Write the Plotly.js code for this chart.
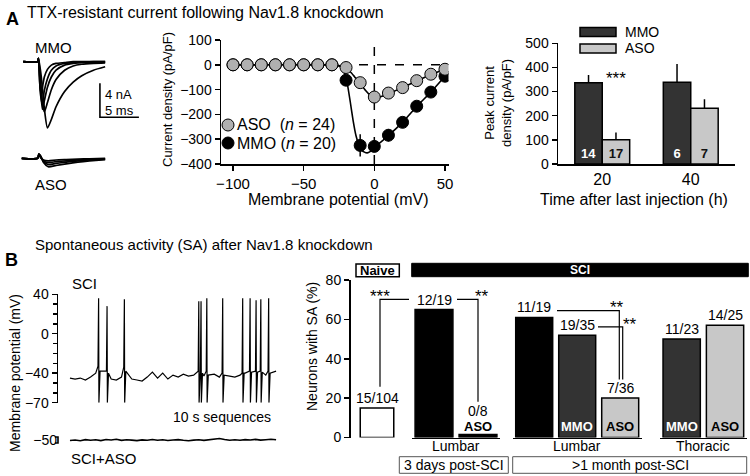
<!DOCTYPE html>
<html><head><meta charset="utf-8">
<script src="https://cdn.plot.ly/plotly-3.0.1.min.js"></script>
<style>html,body{margin:0;padding:0;background:#fff}#chart{width:750px;height:476px}</style>
</head><body><div id="chart"></div>
<script>
// ================= DATA =================
// Panel A left: example TTX-R current traces (time in ms, current in nA)
const mmoTime   = [0, 1.85, 1.95, 2.2, 2.45, 2.7, 3.1, 3.6, 4.2, 5.3, 6.4, 7.5, 9, 10.5];
const mmoTrace1 = [0, 0, 0.4, -1.0, -3.0, -5.5, -7.8, -6.8, -5.3, -3.5, -2.4, -1.65, -1.0, -0.6];
const mmoTrace2 = [0, 0, 0.4, -2.0, -4.8, -5.9, -4.8, -3.3, -2.1, -1.0, -0.5, -0.3, -0.2, -0.15];
const mmoTrace3 = [0, 0, 0.4, -3.0, -5.6, -4.6, -3.0, -1.8, -1.0, -0.4, -0.2, -0.1, -0.1, -0.05];
const mmoTrace4 = [0, 0, 0.4, -3.8, -5.0, -3.4, -2.0, -1.0, -0.5, -0.2, -0.1, -0.05, 0, 0];
const mmoTrace5 = [0, 0, 0.4, -3.5, -3.0, -1.8, -0.9, -0.4, -0.2, -0.1, 0, 0, 0, 0];
const asoTime   = [-0.2, 1.85, 2.0, 2.2, 2.6, 3.2, 4.2, 5.5, 7, 8.5, 10.5];
const asoTrace1 = [0, 0, 0.5, 0.3, -0.5, -1.0, -0.85, -0.65, -0.45, -0.3, -0.15];
const asoTrace2 = [0, 0, 0.5, 0.3, -0.4, -0.75, -0.6, -0.45, -0.3, -0.2, -0.1];
const asoTrace3 = [0, 0, 0.5, 0.2, -0.3, -0.5, -0.4, -0.3, -0.2, -0.1, -0.05];
const asoTrace4 = [0, 0, 0.5, 0.1, -0.2, -0.3, -0.2, -0.15, -0.1, -0.05, 0];
const scaleBarCurrent = 4;   // nA
const scaleBarTime = 5;      // ms

// Panel A middle: current-voltage relation
const voltage  = [-100, -90, -80, -70, -60, -50, -40, -30, -20, -10, 0, 10, 20, 30, 40, 50];
const ivASO    = [0, 0, 0, 0, 0, 0, 0, 0, -11, -72, -130, -114, -92, -64, -38, -18];
const ivASOerr = [0, 0, 0, 0, 0, 0, 0, 0, 5, 12, 12, 15, 14, 12, 10, 8];
const ivMMO    = [0, 0, 0, 0, 0, 0, 0, 0, -62, -325, -329, -284, -232, -167, -110, -46];
const ivMMOerr = [0, 0, 0, 0, 0, 0, 0, 0, 12, 45, 18, 25, 20, 15, 15, 10];
const fitVoltageASO = [-100, -30, -26, -23, -20, -17, -14, -10, -6, -3, 0, 3, 6, 10, 20, 30, 40, 50];
const fitASO        = [0, 0, -2, -6, -13, -28, -48, -75, -105, -123, -132, -131, -126, -116, -92, -65, -40, -17];
const fitVoltageMMO = [-100, -30, -26, -23, -21, -19, -17, -15, -13, -11, -9, -7, -5, -3, -1, 0, 5, 10, 20, 30, 40, 50];
const fitMMO        = [0, 0, -3, -12, -35, -80, -150, -225, -285, -322, -343, -352, -355, -350, -340, -333, -310, -285, -232, -168, -110, -46];
const ivLegend = ['ASO&nbsp;&nbsp;(<i>n</i> = 24)', 'MMO (<i>n</i> = 20)'];

// Panel A right: peak current density
const injTime    = ['20', '40'];
const peakMMO    = [337, 339];
const peakMMOerr = [32, 75];
const peakASO    = [100, 231];
const peakASOerr = [30, 37];
const nMMO = ['14', '6'];
const nASO = ['17', '7'];

// Panel B left: membrane potential recording (s, mV)
const sciBaseTime = [0, 0.25, 0.5, 0.75, 1, 1.25, 1.5, 1.75, 2, 2.25, 2.5, 2.75, 3, 3.25, 3.5, 3.75, 4, 4.25, 4.5, 4.75, 5,
                     5.25, 5.5, 5.75, 6, 6.25, 6.5, 6.75, 7, 7.25, 7.5, 7.75, 8, 8.25, 8.5, 8.75, 9, 9.25, 9.5, 9.75, 10];
const sciBaseV = [-45, -46, -45, -47, -44, -40, -44, -42, -46, -47, -44, -47, -46, -47, -48, -44, -39, -45, -40, -46, -42,
                  -44, -41, -43, -42, -41, -43, -44, -41, -44, -42, -43, -44, -42, -40, -42, -41, -40, -42, -39, -38];
const spikeTimes   = [1.39, 1.80, 2.64, 6.25, 6.36, 6.64, 7.41, 8.38, 8.74, 9.03, 9.26, 9.64];
const spikePeaks   = [36, 28, 35, 33, 33, 36, 36, 36, 36, 34, 35, 36];
const spikeOnsetV  = [-33, -38, -34, -38, -36, -38, -40, -40, -38, -38, -38, -38];
const spikeTroughV = [-70, -70, -70, -70, -70, -70, -70, -70, -70, -70, -70, -70];
const spikeReboundV= [-38, -40, -38, -40, -40, -42, -42, -40, -39, -39, -39, -40];
const asoRecV = [-50.5, -50, -50.8, -49.6, -50.2, -49.8, -50.6, -49.5, -50, -49.2, -50.4, -49.7, -50.1, -50.6, -49.9, -50.3,
                 -49.5, -50.2, -49.8, -50.5, -50, -49.6, -50.3, -50.7, -50.1, -49.8, -50.4, -49.9, -49.2, -48.5, -49.5, -50.2,
                 -49.8, -50.3, -49.6, -50, -49.4, -50.1, -49.7, -49.3, -49.8];

// Panel B right: % neurons with SA
const naiveCat = ['Naive'];          const naiveVal = [15];          const naiveFrac = ['15/104'];
const lum3Cat = ['SCI', 'ASO'];      const lum3Val = [65, 1.5];      const lum3Frac = ['12/19', '0/8'];
const lum1Cat = ['SCI', 'MMO', 'ASO']; const lum1Val = [61, 52, 20]; const lum1Frac = ['11/19', '19/35', '7/36'];
const thoCat = ['MMO', 'ASO'];       const thoVal = [50, 57];        const thoFrac = ['11/23', '14/25'];

// ================= HELPERS =================
const W = 750, H = 476;
const px = v => v / W;
const py = v => 1 - v / H;
const FONT = 'Liberation Sans, Arial, sans-serif';
const BLACK = '#000', DARK = '#333333', LIGHT = '#c8c8c8', GREY = '#b0b0b0';
const catColor = c => c === 'SCI' ? BLACK : c === 'MMO' ? DARK : c === 'ASO' ? LIGHT : '#fff';

// ================= TRACES =================
const traces = [];
[mmoTrace1, mmoTrace2, mmoTrace3, mmoTrace4, mmoTrace5].forEach(tr => traces.push({
  x: mmoTime, y: tr, xaxis: 'x3', yaxis: 'y3', mode: 'lines', line: {color: BLACK, width: 1.7, shape: 'spline', smoothing: 0.6}, showlegend: false, hoverinfo: 'skip'}));
[asoTrace1, asoTrace2, asoTrace3, asoTrace4].forEach(tr => traces.push({
  x: asoTime, y: tr, xaxis: 'x4', yaxis: 'y4', mode: 'lines', line: {color: BLACK, width: 1.7, shape: 'spline', smoothing: 0.6}, showlegend: false, hoverinfo: 'skip'}));
const sbT = 9.83, sbI = -2.54;
traces.push({x: [sbT, sbT, sbT + scaleBarTime], y: [sbI, sbI - scaleBarCurrent, sbI - scaleBarCurrent], xaxis: 'x3', yaxis: 'y3',
  mode: 'lines', line: {color: BLACK, width: 1.6}, showlegend: false, hoverinfo: 'skip'});

// IV
traces.push({x: fitVoltageMMO, y: fitMMO, mode: 'lines', line: {color: BLACK, width: 1.6, shape: 'spline', smoothing: 0.4}, showlegend: false});
traces.push({x: fitVoltageASO, y: fitASO, mode: 'lines', line: {color: BLACK, width: 1.6, shape: 'spline', smoothing: 0.4}, showlegend: false});
traces.push({x: voltage, y: ivMMO, mode: 'markers', marker: {size: 12, color: BLACK, line: {color: BLACK, width: 1}},
  error_y: {type: 'data', array: ivMMOerr, color: BLACK, thickness: 1.5, width: 0}, showlegend: false});
traces.push({x: voltage, y: ivASO, mode: 'markers', marker: {size: 12, color: GREY, line: {color: BLACK, width: 1}},
  error_y: {type: 'data', array: ivASOerr, color: BLACK, thickness: 1.5, width: 0}, showlegend: false});

// Peak current bars
traces.push({type: 'bar', x: injTime, y: peakMMO, xaxis: 'x2', yaxis: 'y2', marker: {color: DARK, line: {color: BLACK, width: 1.5}},
  error_y: {type: 'data', array: peakMMOerr, arrayminus: [0, 0], symmetric: false, color: BLACK, thickness: 1.5, width: 0},
  text: nMMO.map(n => '<b>' + n + '</b>'), textposition: 'inside', insidetextanchor: 'start', constraintext: 'none',
  textfont: {color: '#fff', size: 13, family: FONT}, showlegend: false});
traces.push({type: 'bar', x: injTime, y: peakASO, xaxis: 'x2', yaxis: 'y2', marker: {color: LIGHT, line: {color: BLACK, width: 1.5}},
  error_y: {type: 'data', array: peakASOerr, arrayminus: [0, 0], symmetric: false, color: BLACK, thickness: 1.5, width: 0},
  text: nASO.map(n => '<b>' + n + '</b>'), textposition: 'inside', insidetextanchor: 'start', constraintext: 'none',
  textfont: {color: '#111', size: 13, family: FONT}, showlegend: false});

// SCI recording
const pts = [];
sciBaseTime.forEach((t, i) => { if (!spikeTimes.some(s => t > s - 0.07 && t < s + 0.12)) pts.push([t, sciBaseV[i]]); });
spikeTimes.forEach((s, i) => {
  pts.push([s - 0.03, spikeOnsetV[i]]); pts.push([s, spikePeaks[i]]);
  pts.push([s + 0.015, spikeTroughV[i]]); pts.push([s + 0.07, spikeReboundV[i]]);
});
pts.sort((a, b) => a[0] - b[0]);
traces.push({x: pts.map(p => p[0]), y: pts.map(p => p[1]), xaxis: 'x5', yaxis: 'y5', mode: 'lines', line: {color: BLACK, width: 1.2}, showlegend: false});
traces.push({x: sciBaseTime, y: asoRecV, xaxis: 'x6', yaxis: 'y6', mode: 'lines', line: {color: BLACK, width: 1.6}, showlegend: false});

// SA bars
const groups = [
  {cat: naiveCat, val: naiveVal, frac: naiveFrac, ax: 'x7'},
  {cat: lum3Cat, val: lum3Val, frac: lum3Frac, ax: 'x8'},
  {cat: lum1Cat, val: lum1Val, frac: lum1Frac, ax: 'x9'},
  {cat: thoCat, val: thoVal, frac: thoFrac, ax: 'x10'}
];
groups.forEach((g, gi) => traces.push({type: 'bar', x: g.cat, y: g.val, xaxis: g.ax, yaxis: 'y7', width: 0.86,
  marker: {color: g.cat.map((c, i) => gi === 1 ? BLACK : catColor(c)), line: {color: BLACK, width: 1.5}}, showlegend: false}));

// ================= ANNOTATIONS =================
function ann(text, x, y, o) {
  o = o || {};
  const f = Object.assign({size: 14, family: FONT, color: BLACK}, o.font || {});
  delete o.font;
  return Object.assign({text: text, x: px(x), y: py(y), xref: 'paper', yref: 'paper', showarrow: false,
    xanchor: 'center', yanchor: 'middle', font: f}, o);
}
const anns = [
  ann('<b>A</b>', 12, 19, {font: {size: 18}}),
  ann('TTX-resistant current following Nav1.8 knockdown', 25, 12, {xanchor: 'left', font: {size: 16, family: 'Liberation Sans Narrow, Arial Narrow, Liberation Sans, Arial'}}),
  ann('MMO', 53, 48, {font: {size: 15}}),
  ann('ASO', 51, 185, {font: {size: 15}}),
  ann('4 nA', 103, 95, {xanchor: 'left', font: {size: 13}}),
  ann('5 ms', 103, 110, {xanchor: 'left', font: {size: 13}}),
  ann('Current density (pA/pF)', 167, 100, {textangle: -90, font: {size: 13}}),
  ann('Membrane potential (mV)', 338, 199, {font: {size: 16}}),
  ann(ivLegend[0], 235, 125, {xanchor: 'left', font: {size: 16}}),
  ann(ivLegend[1], 235, 143, {xanchor: 'left', font: {size: 16}}),
  ann('Peak current<br>density (pA/pF)', 498, 103, {textangle: -90, font: {size: 13}}),
  ann('Time after last injection (h)', 634, 199, {font: {size: 16}}),
  ann('***', 616, 79, {font: {size: 17}}),
  ann('MMO', 623, 32, {xanchor: 'left', font: {size: 14}}),
  ann('ASO', 623, 48.5, {xanchor: 'left', font: {size: 14}}),
  ann('<b>B</b>', 11, 260, {font: {size: 18}}),
  ann('Spontaneous activity (SA) after Nav1.8 knockdown', 33, 245, {xanchor: 'left', font: {size: 15}}),
  ann('SCI', 84, 283, {font: {size: 15}}),
  ann('10 s sequences', 222, 417, {font: {size: 14}}),
  ann('SCI+ASO', 103, 458, {font: {size: 15}}),
  ann('Membrane potential (mV)', 15, 373, {textangle: -90, font: {size: 14}}),
  ann('Neurons with SA (%)', 312, 347, {textangle: -90, font: {size: 14}}),
  ann('<b>Naive</b>', 377.7, 270.4, {font: {size: 13}}),
  ann('<b>SCI</b>', 580, 270, {font: {size: 12, color: '#fff'}}),
  ann('Lumbar', 456, 446, {font: {size: 14}}),
  ann('Lumbar', 577, 446, {font: {size: 14}}),
  ann('Thoracic', 703, 446, {font: {size: 14}}),
  ann('3 days post-SCI', 454, 465, {font: {size: 14}}),
  ann('&gt;1 month post-SCI', 630, 465, {font: {size: 14}}),
  ann('***', 380, 296, {font: {size: 17}}),
  ann('**', 482, 296, {font: {size: 17}}),
  ann('**', 617, 307, {font: {size: 17}}),
  ann('**', 630, 324, {font: {size: 17}})
];
groups.forEach(g => {
  g.cat.forEach((c, i) => {
    anns.push({text: g.frac[i], x: i, y: g.val[i], xref: g.ax, yref: 'y7', showarrow: false, xanchor: 'center', yanchor: 'bottom',
      yshift: g.val[i] < 5 ? 14 : 0, font: {size: 14, family: FONT, color: BLACK}});
    if (g.ax !== 'x7' && c !== 'SCI') {
      anns.push({text: '<b>' + c + '</b>', x: i, y: 0, xref: g.ax, yref: 'y7', showarrow: false, xanchor: 'center', yanchor: 'bottom',
        yshift: 2, font: {size: 13, family: FONT, color: c === 'MMO' ? '#fff' : BLACK}});
    }
  });
});

// ================= SHAPES =================
const rect = (x0, x1, y0, y1, fill, lc, lw) => ({type: 'rect', xref: 'paper', yref: 'paper', x0: px(x0), x1: px(x1), y0: py(y1), y1: py(y0),
  fillcolor: fill, line: {color: lc, width: lw}});
const shapes = [
  {type: 'line', xref: 'x', yref: 'y', x0: -100, x1: 52.5, y0: 0, y1: 0, line: {color: BLACK, width: 1.5, dash: 'dash'}, layer: 'below'},
  {type: 'line', xref: 'x', yref: 'y', x0: 0, x1: 0, y0: -400, y1: 100, line: {color: BLACK, width: 1.5, dash: 'dash'}, layer: 'below'},
  {type: 'circle', xref: 'paper', yref: 'paper', x0: px(222), x1: px(234), y0: py(131), y1: py(119), fillcolor: GREY, line: {color: BLACK, width: 1}},
  {type: 'circle', xref: 'paper', yref: 'paper', x0: px(222), x1: px(234), y0: py(149), y1: py(137), fillcolor: BLACK, line: {color: BLACK, width: 1}},
  rect(580, 616, 27.5, 36.5, DARK, BLACK, 1.5),
  rect(580, 616, 44, 53, LIGHT, BLACK, 1.5),
  rect(356, 399.3, 264, 276.7, '#fff', BLACK, 1.5),
  rect(411.7, 748.3, 263.3, 276.7, BLACK, BLACK, 1),
  rect(399.3, 508.3, 456.7, 473.3, 'rgba(0,0,0,0)', '#555', 1),
  rect(512.7, 746.7, 456.7, 473.3, 'rgba(0,0,0,0)', '#555', 1),
  {type: 'path', xref: 'paper', yref: 'y7', path: `M ${px(380)} 25.8 L ${px(380)} 70.2 L ${px(409)} 70.2`, line: {color: BLACK, width: 1.2}},
  {type: 'path', xref: 'paper', yref: 'y7', path: `M ${px(457)} 70.2 L ${px(478)} 70.2 L ${px(478)} 18.2`, line: {color: BLACK, width: 1.2}},
  {type: 'path', xref: 'paper', yref: 'y7', path: `M ${px(557)} 64.4 L ${px(619.3)} 64.4 L ${px(619.3)} 29.5`, line: {color: BLACK, width: 1.2}},
  {type: 'path', xref: 'paper', yref: 'y7', path: `M ${px(598)} 56.2 L ${px(622.7)} 56.2 L ${px(622.7)} 29.5`, line: {color: BLACK, width: 1.2}},
  {type: 'path', xref: 'paper', yref: 'y6', path: `M ${px(55)} -53 L ${px(58)} -53 L ${px(58)} -47 L ${px(55)} -47`, line: {color: BLACK, width: 1.6}}
];

// ================= LAYOUT =================
const axBase = {showgrid: false, zeroline: false, showline: true, linecolor: BLACK, linewidth: 1.5, ticks: 'outside', ticklen: 5,
  tickwidth: 1.5, tickcolor: BLACK, tickfont: {size: 14, family: FONT, color: BLACK}, fixedrange: true};
const hidden = {visible: false, fixedrange: true};
const layout = {
  width: W, height: H, margin: {l: 0, r: 0, t: 0, b: 0}, paper_bgcolor: '#fff', plot_bgcolor: 'rgba(0,0,0,0)',
  font: {family: FONT, size: 14, color: BLACK}, showlegend: false, hovermode: false,
  barmode: 'group', bargap: 0.38, bargroupgap: 0,
  xaxis: Object.assign({}, axBase, {domain: [px(221), px(448.5)], range: [-108.5, 52.5], tickvals: [-100, -50, 0, 50], anchor: 'y',
    tickfont: {size: 15, family: FONT, color: BLACK}}),
  yaxis: Object.assign({}, axBase, {domain: [py(164), py(40)], range: [-400, 100], tickvals: [100, 0, -100, -200, -300, -400], anchor: 'x'}),
  xaxis2: Object.assign({}, axBase, {domain: [px(558), px(735)], anchor: 'y2', ticks: '', tickfont: {size: 16, family: FONT, color: BLACK}}),
  yaxis2: Object.assign({}, axBase, {domain: [py(164), py(43.3)], range: [0, 500], dtick: 100, anchor: 'x2'}),
  xaxis3: Object.assign({}, hidden, {domain: [px(20), px(145)], range: [-0.42, 15.61], anchor: 'y3'}),
  yaxis3: Object.assign({}, hidden, {domain: [py(135), py(50)], range: [-8.624, 1.376], anchor: 'x3'}),
  xaxis4: Object.assign({}, hidden, {domain: [px(20), px(145)], range: [-0.42, 15.61], anchor: 'y4'}),
  yaxis4: Object.assign({}, hidden, {domain: [py(175), py(145)], range: [-1.965, 1.565], anchor: 'x4'}),
  xaxis5: Object.assign({}, hidden, {domain: [px(58), px(280)], range: [-0.58, 10.19], anchor: 'y5'}),
  yaxis5: Object.assign({}, axBase, {domain: [py(402.7), py(294.3)], range: [-70, 40], tickvals: [40, 0, -40, -70], anchor: 'x5',
    minor: {tickmode: 'linear', tick0: 0, dtick: 10, ticks: 'outside', ticklen: 4, tickwidth: 1.5, tickcolor: BLACK}}),
  xaxis6: Object.assign({}, hidden, {domain: [px(58), px(280)], range: [-0.58, 10.19], anchor: 'y6'}),
  yaxis6: Object.assign({}, axBase, {domain: [py(446), py(434)], range: [-56, -44], tickvals: [-50], ticks: '', showline: false, anchor: 'x6'}),
  yaxis7: Object.assign({}, axBase, {domain: [py(437.5), py(280)], range: [0, 80], tickvals: [0, 20, 40, 60, 80], anchor: 'free', position: px(349)}),
  xaxis7: Object.assign({}, axBase, {domain: [px(357.5), px(400.5)], anchor: 'y7', showline: false, ticks: '', showticklabels: false}),
  xaxis8: Object.assign({}, axBase, {domain: [px(412), px(500)], anchor: 'y7', ticks: '', showticklabels: false}),
  xaxis9: Object.assign({}, axBase, {domain: [px(512.7), px(641.7)], anchor: 'y7', ticks: '', showticklabels: false}),
  xaxis10: Object.assign({}, axBase, {domain: [px(660), px(746.7)], anchor: 'y7', ticks: '', showticklabels: false}),
  annotations: anns,
  shapes: shapes
};
Plotly.newPlot('chart', traces, layout, {staticPlot: true, displayModeBar: false});
</script>
</body></html>
